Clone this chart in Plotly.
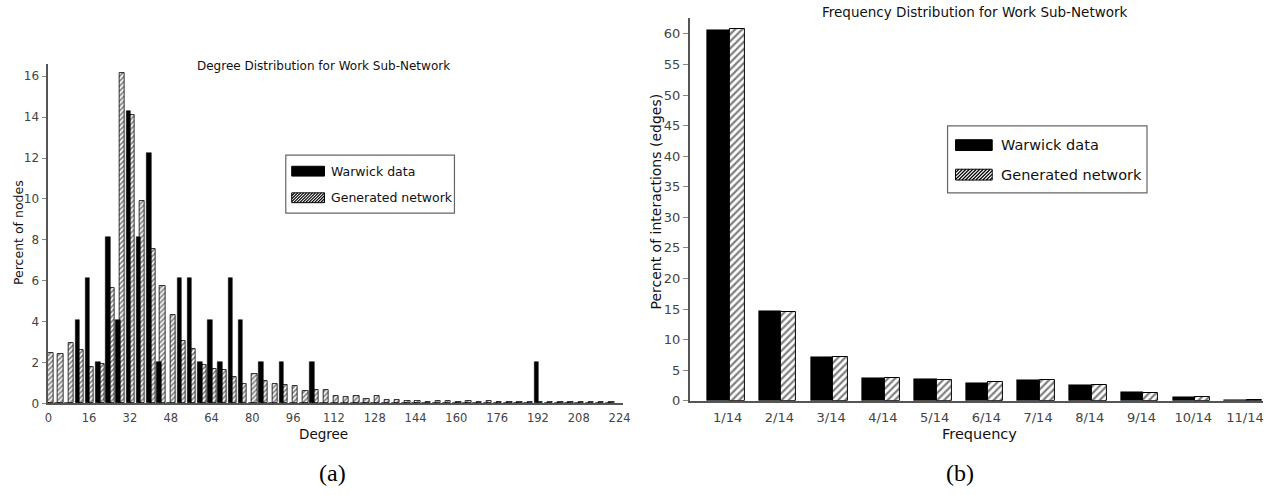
import plotly.graph_objects as go

# ---------------- data ----------------
# (a) degree distribution, bins of width 4 (percent of nodes)
degree_bins = list(range(0, 224, 4))
warwick_degree = [0, 0, 0, 4.08, 6.12, 2.04, 8.16, 4.08, 14.29, 8.16, 12.24, 2.04,
                  0, 6.12, 6.12, 2.04, 4.08, 2.04, 6.12, 4.08, 0, 2.04, 0, 2.04,
                  0, 0, 2.04, 0, 0, 0, 0, 0, 0, 0, 0, 0,
                  0, 0, 0, 0, 0, 0, 0, 0, 0, 0, 0, 0,
                  2.04, 0, 0, 0, 0, 0, 0, 0]
generated_degree = [2.48, 2.40, 2.96, 2.60, 1.78, 1.92, 5.64, 16.15, 14.10, 9.90, 7.53, 5.74,
                    4.33, 3.04, 2.64, 1.87, 1.68, 1.63, 1.31, 0.96, 1.44, 1.09, 0.96, 0.91,
                    0.87, 0.63, 0.67, 0.67, 0.35, 0.29, 0.38, 0.22, 0.37, 0.16, 0.19, 0.13,
                    0.13, 0.05, 0.13, 0.13, 0.05, 0.12, 0.05, 0.12, 0.05, 0.05, 0.05, 0.05,
                    0.05, 0.05, 0.05, 0.05, 0.05, 0.05, 0.05, 0.05]
degree_ticks = list(range(0, 225, 16))

# (b) frequency distribution (percent of interactions)
freq_labels = ["1/14", "2/14", "3/14", "4/14", "5/14", "6/14", "7/14", "8/14", "9/14", "10/14", "11/14"]
warwick_freq = [60.6, 14.6, 7.19, 3.76, 3.49, 2.95, 3.38, 2.58, 1.45, 0.64, 0.10]
generated_freq = [60.87, 14.49, 7.09, 3.70, 3.44, 3.06, 3.38, 2.58, 1.34, 0.55, 0.08]
freq_ticks = list(range(0, 61, 5))

W, H = 1281, 495
SANS = "DejaVu Sans"
AXIS_GRAY = "#555555"
TICK_GRAY = "#444444"


def px(x):
    return x / W


def py(y):
    return 1 - y / H


fig = go.Figure()

# ---- (a) bars: hatched drawn first, solid bars on top ----
fig.add_trace(go.Bar(
    x=degree_bins, y=generated_degree, name="Generated network",
    offset=-0.2, width=2.1,
    marker=dict(color="white", line=dict(color="black", width=0.8),
                pattern=dict(shape="/", fgcolor="black", bgcolor="white", size=3.5, solidity=0.5)),
    xaxis="x", yaxis="y", showlegend=False))
fig.add_trace(go.Bar(
    x=degree_bins, y=warwick_degree, name="Warwick data",
    offset=-1.5, width=1.8,
    marker=dict(color="black", line=dict(color="black", width=0.5)),
    xaxis="x", yaxis="y", showlegend=False))

# ---- (b) bars ----
fig.add_trace(go.Bar(
    x=freq_labels, y=warwick_freq, name="Warwick data",
    offset=-0.40, width=0.435,
    marker=dict(color="black", line=dict(color="black", width=0.5)),
    xaxis="x2", yaxis="y2", showlegend=False))
fig.add_trace(go.Bar(
    x=freq_labels, y=generated_freq, name="Generated network",
    offset=0.035, width=0.29,
    marker=dict(color="white", line=dict(color="black", width=1),
                pattern=dict(shape="/", fgcolor="black", bgcolor="white", size=5, solidity=0.45)),
    xaxis="x2", yaxis="y2", showlegend=False))

axis_common = dict(showline=True, linecolor=AXIS_GRAY, showgrid=False, zeroline=False)

fig.update_layout(
    width=W, height=H, autosize=False,
    margin=dict(l=0, r=0, t=0, b=0, pad=0),
    paper_bgcolor="white", plot_bgcolor="white",
    barmode="overlay", bargap=0,
    font=dict(family=SANS, color=TICK_GRAY),
    xaxis=dict(domain=[px(44.9), px(625)], range=[-0.3, 225.4], anchor="y",
               tickmode="array", tickvals=degree_ticks, ticks="", ticklabelstandoff=3,
               tickfont=dict(size=11.5, color=TICK_GRAY), linewidth=2, **axis_common),
    yaxis=dict(domain=[py(410), py(65)], range=[0, 16.6], anchor="x",
               tickmode="array", tickvals=list(range(0, 17, 2)), ticks="outside",
               ticklen=4, tickcolor="#888888",
               tickfont=dict(size=12, color=TICK_GRAY), linewidth=2, **axis_common),
    xaxis2=dict(domain=[px(692.3), px(1270)], range=[-0.73, 10.35], anchor="y2",
                type="category", ticks="", ticklabelstandoff=4,
                tickfont=dict(size=13, color=TICK_GRAY), linewidth=2, **axis_common),
    yaxis2=dict(domain=[py(407.3), py(18.3)], range=[0, 62.6], anchor="x2",
                tickmode="array", tickvals=freq_ticks, ticks="outside",
                ticklen=5, tickcolor="#888888",
                tickfont=dict(size=13, color=TICK_GRAY), linewidth=2, **axis_common),
)

annotations = [
    dict(text="Degree Distribution for Work Sub-Network", x=px(323), y=py(67),
         font=dict(size=12, color="#111111")),
    dict(text="Degree", x=px(323), y=py(441), font=dict(size=13.5, color="#111111")),
    dict(text="Percent of nodes", x=px(15), y=py(236), textangle=-90,
         font=dict(size=12.5, color="#111111")),
    dict(text="Frequency Distribution for Work Sub-Network", x=px(980), y=py(12),
         font=dict(size=13.5, color="#111111")),
    dict(text="Frequency", x=px(984), y=py(441), font=dict(size=14.5, color="#111111")),
    dict(text="Percent of interactions (edges)", x=px(658), y=py(205), textangle=-90,
         font=dict(size=14, color="#111111")),
    dict(text="(a)", x=px(332), y=py(481),
         font=dict(size=24, family="Liberation Serif", color="black")),
    dict(text="(b)", x=px(965), y=py(481),
         font=dict(size=24, family="Liberation Serif", color="black")),
]

shapes = []


def hatch_lines(x0, y0, x1, y1, step):
    """Diagonal '/' lines clipped to the box [x0,x1]x[y0,y1] (pixel coords, y down)."""
    segs = []
    h = y1 - y0
    c = x0 - h
    while c < x1:
        # line: x = c + (y1 - y), running from bottom-left to top-right
        ax, ay = c, y1
        bx, by = c + h, y0
        if ax < x0:
            ay = y1 - (x0 - c)
            ax = x0
        if bx > x1:
            by = y1 - (x1 - c)
            bx = x1
        if bx > ax:
            segs.append((ax, ay, bx, by))
        c += step
    return segs


def legend_block(bx0, by0, bx1, by1, sw_x0, sw_x1, row1, row2, sw_h, text_x, fsize, step):
    shapes.append(dict(type="rect", xref="paper", yref="paper",
                       x0=px(bx0), x1=px(bx1), y0=py(by1), y1=py(by0),
                       line=dict(color="#666666", width=1.2), fillcolor="white", layer="above"))
    shapes.append(dict(type="rect", xref="paper", yref="paper",
                       x0=px(sw_x0), x1=px(sw_x1), y0=py(row1 + sw_h / 2), y1=py(row1 - sw_h / 2),
                       line=dict(color="black", width=1), fillcolor="black", layer="above"))
    shapes.append(dict(type="rect", xref="paper", yref="paper",
                       x0=px(sw_x0), x1=px(sw_x1), y0=py(row2 + sw_h / 2), y1=py(row2 - sw_h / 2),
                       line=dict(color="black", width=1), fillcolor="white", layer="above"))
    for ax, ay, bx, by in hatch_lines(sw_x0, row2 - sw_h / 2, sw_x1, row2 + sw_h / 2, step):
        shapes.append(dict(type="line", xref="paper", yref="paper",
                           x0=px(ax), y0=py(ay), x1=px(bx), y1=py(by),
                           line=dict(color="black", width=1.2), layer="above"))
    annotations.append(dict(text="Warwick data", x=px(text_x), y=py(row1), xanchor="left",
                            font=dict(size=fsize, color="#111111")))
    annotations.append(dict(text="Generated network", x=px(text_x), y=py(row2), xanchor="left",
                            font=dict(size=fsize, color="#111111")))


legend_block(285, 157.7, 455, 216.7, 291, 324, 174, 201, 10, 329, 12.5, 3)
legend_block(952, 128, 1153, 196, 960, 997, 147.5, 177.5, 11, 1004, 14.5, 3.5)

for a in annotations:
    a.setdefault("xref", "paper")
    a.setdefault("yref", "paper")
    a.setdefault("showarrow", False)
    a.setdefault("xanchor", "center")
    a.setdefault("yanchor", "middle")

fig.update_layout(annotations=annotations, shapes=shapes)

fig.write_html("out.html")
